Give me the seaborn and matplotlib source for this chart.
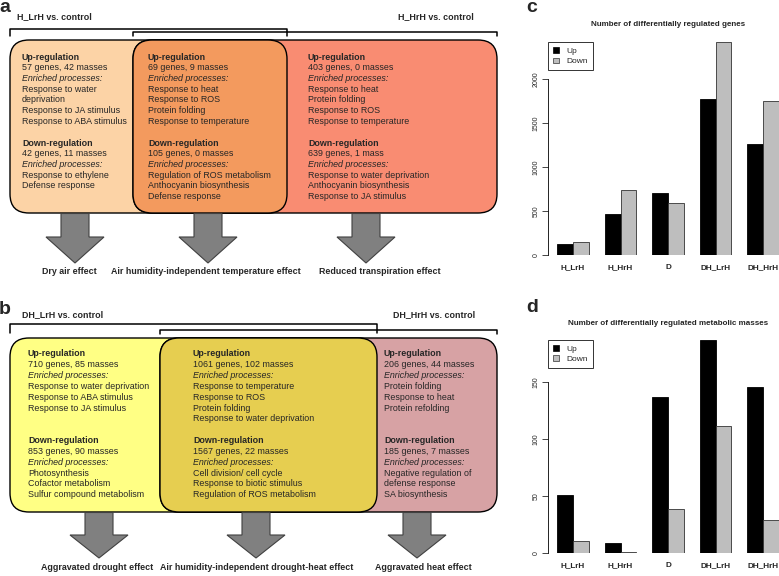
import matplotlib
matplotlib.use("Agg")
import matplotlib.pyplot as plt
from matplotlib.patches import FancyBboxPatch, Polygon, Patch
from matplotlib.lines import Line2D
import seaborn as sns
import pandas as pd

sns.set_style("white")
plt.rcParams['font.family'] = ['Liberation Sans', 'DejaVu Sans']

# ---------------- data ----------------
groups = ["H_LrH", "H_HrH", "D", "DH_LrH", "DH_HrH"]
genes_up = [126, 472, 702, 1771, 1267]
genes_down = [147, 744, 588, 2420, 1752]
mass_up = [51, 9, 137, 187, 146]
mass_down = [11, 1, 39, 112, 29]
directions = ["Up", "Down"]
title_c = "Number of differentially regulated genes"
title_d = "Number of differentially regulated metabolic masses"
yticks_c = [0, 500, 1000, 1500, 2000]
yticks_d = [0, 50, 100, 150]

a_headers = ["H_LrH vs. control", "H_HrH vs. control"]
a_cols = [
    (["Up-regulation", "57 genes, 42 masses", "Enriched processes:", "Response to water",
      "deprivation", "Response to JA stimulus", "Response to ABA stimulus"],
     ["Down-regulation", "42 genes, 11 masses", "Enriched processes:", "Response to ethylene",
      "Defense response"]),
    (["Up-regulation", "69 genes, 9 masses", "Enriched processes:", "Response to heat",
      "Response to ROS", "Protein folding", "Response to temperature"],
     ["Down-regulation", "105 genes, 0 masses", "Enriched processes:",
      "Regulation of ROS metabolism", "Anthocyanin biosynthesis", "Defense response"]),
    (["Up-regulation", "403 genes, 0 masses", "Enriched processes:", "Response to heat",
      "Protein folding", "Response to ROS", "Response to temperature"],
     ["Down-regulation", "639 genes, 1 mass", "Enriched processes:",
      "Response to water deprivation", "Anthocyanin biosynthesis", "Response to JA stimulus"]),
]
a_effects = ["Dry air effect", "Air humidity-independent temperature effect",
             "Reduced transpiration effect"]

b_headers = ["DH_LrH vs. control", "DH_HrH vs. control"]
b_cols = [
    (["Up-regulation", "710 genes, 85 masses", "Enriched processes:",
      "Response to water deprivation", "Response to ABA stimulus", "Response to JA stimulus"],
     ["Down-regulation", "853 genes, 90 masses", "Enriched processes:", "Photosynthesis",
      "Cofactor metabolism", "Sulfur compound metabolism"]),
    (["Up-regulation", "1061 genes, 102 masses", "Enriched processes:",
      "Response to temperature", "Response to ROS", "Protein folding",
      "Response to water deprivation"],
     ["Down-regulation", "1567 genes, 22 masses", "Enriched processes:",
      "Cell division/ cell cycle", "Response to biotic stimulus", "Regulation of ROS metabolism"]),
    (["Up-regulation", "206 genes, 44 masses", "Enriched processes:", "Protein folding",
      "Response to heat", "Protein refolding"],
     ["Down-regulation", "185 genes, 7 masses", "Enriched processes:",
      "Negative regulation of", "defense response", "SA biosynthesis"]),
]
b_effects = ["Aggravated drought effect", "Air humidity-independent drought-heat effect",
             "Aggravated heat effect"]

W, H = 779, 576
fig = plt.figure(figsize=(W / 100, H / 100), dpi=100)

# ---------------- diagram panels a & b ----------------
ax0 = fig.add_axes([0, 0, 1, 1])
ax0.set_xlim(0, W)
ax0.set_ylim(H, 0)
ax0.axis("off")

FS = 6.4


def rbox(x0, x1, y0, y1, color, r=19):
    p = FancyBboxPatch((x0, y0), x1 - x0, y1 - y0,
                       boxstyle="round,pad=0,rounding_size=%g" % r,
                       facecolor=color, edgecolor="black", linewidth=1.0)
    ax0.add_patch(p)


def arrow(cx, y0, ys, ytip, hw=14, hh=29):
    pts = [(cx - hw, y0), (cx + hw, y0), (cx + hw, ys), (cx + hh, ys), (cx, ytip),
           (cx - hh, ys), (cx - hw, ys)]
    ax0.add_patch(Polygon(pts, closed=True, facecolor="#808080", edgecolor="#404040",
                          linewidth=0.8))


def bracket(x0, x1, y, ytick):
    ax0.add_line(Line2D([x0, x0, x1, x1], [ytick, y, y, ytick], color="black", lw=1.1))


def column(x, y0, dy, up, down):
    for block, start in ((up, 0), (down, 8)):
        for i, s in enumerate(block):
            kw = {}
            if i == 0:
                kw["fontweight"] = "bold"
            if i == 2:
                kw["fontstyle"] = "italic"
            ax0.text(x, y0 + (start + i) * dy, s, fontsize=FS, ha="left", va="center", **kw)


# panel a
ax0.text(-1, 11.5, "a", fontsize=14, fontweight="bold", ha="left", va="baseline")
ax0.text(17, 17, a_headers[0], fontsize=FS, fontweight="bold", ha="left", va="center")
ax0.text(398, 17, a_headers[1], fontsize=FS, fontweight="bold", ha="left", va="center")
bracket(10, 287, 29.3, 36)
bracket(133, 497, 32.3, 36)
rbox(10, 287, 40, 213, "#FCD3A6")
rbox(133, 497, 40, 213, "#F98C72")
rbox(133, 287, 40, 213, "#F39A5E")
for (up, down), x in zip(a_cols, [22, 148, 308]):
    column(x, 57, 10.75, up, down)
for cx in [75, 208, 366]:
    arrow(cx, 213.5, 237, 263)
for s, cx in zip(a_effects, [69, 206, 380]):
    ax0.text(cx, 272, s, fontsize=FS, fontweight="bold", ha="center", va="center")

# panel b
ax0.text(-1, 313.5, "b", fontsize=14, fontweight="bold", ha="left", va="baseline")
ax0.text(22, 315, b_headers[0], fontsize=FS, fontweight="bold", ha="left", va="center")
ax0.text(393, 315, b_headers[1], fontsize=FS, fontweight="bold", ha="left", va="center")
bracket(10, 377, 324, 333)
bracket(160, 497, 330, 334)
rbox(10, 377, 338, 512, "#FFFF84")
rbox(160, 497, 338, 512, "#D7A2A4")
rbox(160, 377, 338, 512, "#E6CE50")
for (up, down), x in zip(b_cols, [28, 193, 384]):
    column(x, 354, 10.83, up, down)
for cx in [99, 256, 417]:
    arrow(cx, 512.5, 535, 558)
for s, cx in zip(b_effects, [97, 257, 423]):
    ax0.text(cx, 567, s, fontsize=FS, fontweight="bold", ha="center", va="center")

# ---------------- bar panels c & d ----------------
PX_PER_UNIT = 47.5
xl, xr = -0.52, 4.52
left_px = 573 + xl * PX_PER_UNIT
width_px = (xr - xl) * PX_PER_UNIT


def bar_panel(top_px, bottom_px, up, down, ymax, yticks, title, title_y, letter, letter_y):
    ax = fig.add_axes([left_px / W, 1 - bottom_px / H, width_px / W, (bottom_px - top_px) / H])
    df = pd.DataFrame({
        "group": groups * 2,
        "dir": [directions[0]] * len(groups) + [directions[1]] * len(groups),
        "value": list(up) + list(down),
    })
    sns.barplot(data=df, x="group", y="value", hue="dir", order=groups, hue_order=directions,
                palette={"Up": "black", "Down": "#BEBEBE"}, width=2 / 3, dodge=True,
                edgecolor="black", linewidth=0.6, legend=False, ax=ax)
    for p in ax.patches[len(groups):]:
        p.set_edgecolor("#333333")
    ax.set_xlim(xl, xr)
    ax.set_ylim(0, ymax)
    ax.set_xlabel("")
    ax.set_ylabel("")
    for s in ["top", "right", "bottom"]:
        ax.spines[s].set_visible(False)
    ax.spines["left"].set_bounds(yticks[0], yticks[-1])
    ax.spines["left"].set_linewidth(0.6)
    ax.spines["left"].set_color("black")
    ax.set_yticks(yticks)
    ax.set_yticklabels([str(t) for t in yticks], rotation=90, va="center", ha="center")
    ax.tick_params(axis="y", length=4, width=0.6, labelsize=5.0, pad=5, left=True)
    ax.tick_params(axis="x", length=0, labelsize=5.9, pad=6.5)
    for lab in ax.get_xticklabels():
        lab.set_fontweight("bold")
    ax.set_facecolor("none")
    handles = [Patch(facecolor="black", edgecolor="black", linewidth=0.5),
               Patch(facecolor="#BEBEBE", edgecolor="#333333", linewidth=0.5)]
    leg = ax.legend(handles, directions, loc="upper left", bbox_to_anchor=(0, 1),
                    borderaxespad=0, fancybox=False, fontsize=6.0, handlelength=0.65,
                    handleheight=0.65, handletextpad=0.9, borderpad=0.6, labelspacing=0.3)
    leg.get_frame().set_edgecolor("black")
    leg.get_frame().set_linewidth(0.7)
    fig.text(668 / W, 1 - title_y / H, title, fontsize=5.8, fontweight="bold",
             ha="center", va="center")
    fig.text(526 / W, 1 - letter_y / H, letter, fontsize=14, fontweight="bold",
             ha="left", va="baseline")
    return ax


bar_panel(42.3, 255, genes_up, genes_down, max(genes_down), yticks_c, title_c, 25, "c", 12.5)
bar_panel(340, 553.3, mass_up, mass_down, max(mass_up), yticks_d, title_d, 323.3, "d", 312)

fig.savefig("out.png", dpi=100)
